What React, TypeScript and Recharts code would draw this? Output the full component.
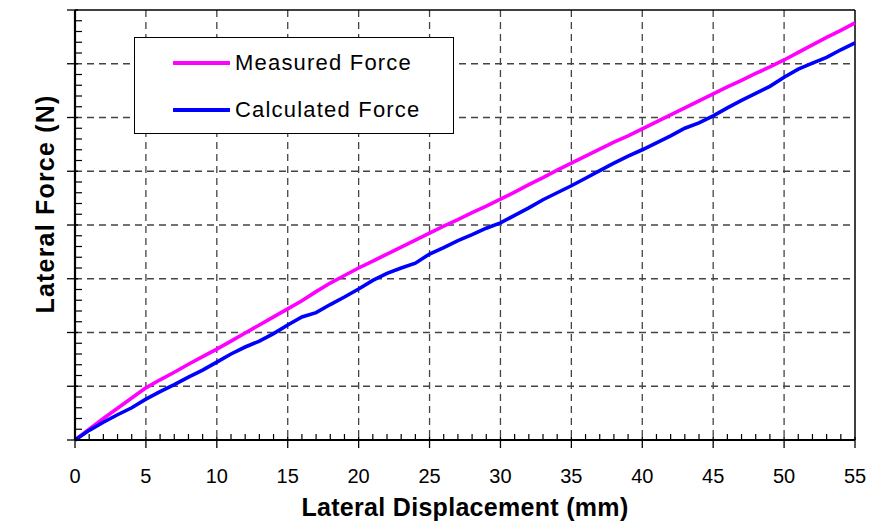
import React from "react";
import {
  LineChart,
  Line,
  XAxis,
  YAxis,
  CartesianGrid,
  Legend,
  Label,
  ReferenceLine,
} from "recharts";

// Lateral force vs lateral displacement — measured and calculated.

const displacement = [
  0, 1, 2, 3, 4, 5, 6, 7, 8, 9, 10, 11, 12, 13, 14, 15, 16, 17, 18, 19, 20,
  21, 22, 23, 24, 25, 26, 27, 28, 29, 30, 31, 32, 33, 34, 35, 36, 37, 38, 39,
  40, 41, 42, 43, 44, 45, 46, 47, 48, 49, 50, 51, 52, 53, 54, 55,
];

const measured = [
  0, 0.2, 0.4, 0.59, 0.78, 0.97, 1.12, 1.26, 1.41, 1.55, 1.69, 1.84, 1.99,
  2.14, 2.29, 2.44, 2.59, 2.76, 2.92, 3.06, 3.2, 3.33, 3.46, 3.59, 3.72, 3.85,
  3.98, 4.1, 4.23, 4.35, 4.48, 4.61, 4.75, 4.88, 5.02, 5.15, 5.28, 5.41, 5.54,
  5.66, 5.79, 5.92, 6.05, 6.18, 6.31, 6.44, 6.57, 6.69, 6.82, 6.94, 7.07, 7.21,
  7.35, 7.49, 7.62, 7.76,
];

const calculated = [
  0, 0.18, 0.33, 0.47, 0.6, 0.76, 0.9, 1.03, 1.17, 1.3, 1.45, 1.6, 1.73, 1.84,
  1.98, 2.14, 2.29, 2.37, 2.52, 2.66, 2.81, 2.97, 3.1, 3.2, 3.29, 3.46, 3.58,
  3.71, 3.82, 3.94, 4.04, 4.18, 4.32, 4.47, 4.6, 4.73, 4.87, 5.01, 5.15, 5.28,
  5.4, 5.53, 5.66, 5.8, 5.9, 6.03, 6.18, 6.32, 6.45, 6.58, 6.75, 6.9, 7.01,
  7.12, 7.26, 7.39,
];

const seriesNames = ["Measured Force", "Calculated Force"];

const xTicks = displacement;
const xMajor = [0, 5, 10, 15, 20, 25, 30, 35, 40, 45, 50, 55];
const yTicks = Array.from({ length: 41 }, (_, i) => i / 5);
const yGrid = [1, 2, 3, 4, 5, 6, 7];
const xGrid = [5, 10, 15, 20, 25, 30, 35, 40, 45, 50];

const data = displacement.map((d, i) => ({
  d,
  measured: measured[i],
  calculated: calculated[i],
}));

const FONT = "'Liberation Sans', Arial, sans-serif";

function XTick(props: any) {
  const { x, y, payload } = props;
  const major = xMajor.includes(payload.value);
  return (
    <g>
      {major ? (
        <line x1={x} x2={x} y1={y - 3} y2={y + 8} stroke="#000" strokeWidth={1.3} />
      ) : (
        <line x1={x} x2={x} y1={y} y2={y - 6} stroke="#000" strokeWidth={1.2} />
      )}
      {major && (
        <text
          x={x}
          y={y + 43}
          textAnchor="middle"
          fontFamily={FONT}
          fontSize={20}
          fill="#000"
        >
          {payload.value}
        </text>
      )}
    </g>
  );
}

function YTick(props: any) {
  const { x, y, payload } = props;
  const major = Math.abs(payload.value - Math.round(payload.value)) < 1e-6;
  return major ? (
    <line x1={x - 8} x2={x + 3} y1={y} y2={y} stroke="#000" strokeWidth={1.3} />
  ) : (
    <line x1={x} x2={x + 7} y1={y} y2={y} stroke="#000" strokeWidth={1.2} />
  );
}

function LegendBox(props: any) {
  const items = [...(props.payload || [])].sort(
    (a: any, b: any) => seriesNames.indexOf(a.value) - seriesNames.indexOf(b.value)
  );
  return (
    <div
      style={{
        width: 320,
        height: 97,
        boxSizing: "border-box",
        border: "1.5px solid #000",
        background: "#fff",
        position: "relative",
      }}
    >
      {items.map((it: any, i: number) => (
        <div
          key={it.value}
          style={{
            position: "absolute",
            left: 38,
            top: 25 + i * 47 - 14,
            height: 28,
            display: "flex",
            alignItems: "center",
          }}
        >
          <svg width={57} height={8} style={{ display: "block" }}>
            <line x1={1} x2={56} y1={4} y2={4} stroke={it.color} strokeWidth={4} strokeLinecap="round" />
          </svg>
          <span
            style={{
              marginLeft: 5,
              fontFamily: FONT,
              fontSize: 22,
              letterSpacing: 1.2,
              color: "#000",
              lineHeight: "28px",
            }}
          >
            {it.value}
          </span>
        </div>
      ))}
    </div>
  );
}

export default function App() {
  return (
    <div style={{ position: "absolute", left: 0, top: 0, background: "#fff" }}>
      <LineChart
        width={885}
        height={524}
        data={data}
        margin={{ top: 10, right: 30, left: 0, bottom: 0 }}
      >
        <CartesianGrid
          horizontalValues={yGrid}
          verticalValues={xGrid}
          stroke="#444"
          strokeWidth={1.3}
          strokeDasharray="7 5"
        />
        <XAxis
          dataKey="d"
          type="number"
          domain={[0, 55]}
          ticks={xTicks}
          interval={0}
          height={84}
          tickSize={0}
          tickMargin={0}
          tick={<XTick />}
          axisLine={{ stroke: "#000", strokeWidth: 2.2 }}
          tickLine={false}
        >
          <Label
            content={(p: any) => {
              const vb = p.viewBox || {};
              return (
                <text
                  x={vb.x + vb.width / 2}
                  y={vb.y + 76}
                  textAnchor="middle"
                  fontFamily={FONT}
                  fontSize={25}
                  fontWeight="bold"
                  letterSpacing={0.3}
                  fill="#000"
                >
                  Lateral Displacement (mm)
                </text>
              );
            }}
          />
        </XAxis>
        <YAxis
          type="number"
          domain={[0, 8]}
          ticks={yTicks}
          interval={0}
          width={75}
          tickSize={0}
          tickMargin={0}
          tick={<YTick />}
          axisLine={{ stroke: "#000", strokeWidth: 2.2 }}
          tickLine={false}
        >
          <Label
            content={(p: any) => {
              const vb = p.viewBox || {};
              const cx = vb.x + 45;
              const cy = vb.y + vb.height / 2 - 21;
              return (
                <text
                  x={cx}
                  y={cy}
                  transform={`rotate(-90 ${cx} ${cy})`}
                  textAnchor="middle"
                  dominantBaseline="central"
                  fontFamily={FONT}
                  fontSize={25}
                  fontWeight="bold"
                  letterSpacing={1.2}
                  fill="#000"
                >
                  Lateral Force (N)
                </text>
              );
            }}
          />
        </YAxis>
        <ReferenceLine y={8} stroke="#000" strokeWidth={1.5} />
        <ReferenceLine x={55} stroke="#000" strokeWidth={1.5} />
        <Legend
          layout="vertical"
          align="center"
          verticalAlign="middle"
          wrapperStyle={{ left: 134, top: 37, width: 320, height: 97 }}
          content={<LegendBox />}
        />
        <Line
          name="Measured Force"
          dataKey="measured"
          type="linear"
          stroke="#FF00FF"
          strokeWidth={3.6}
          dot={false}
          isAnimationActive={false}
        />
        <Line
          name="Calculated Force"
          dataKey="calculated"
          type="linear"
          stroke="#0000FF"
          strokeWidth={3.6}
          dot={false}
          isAnimationActive={false}
        />
      </LineChart>
    </div>
  );
}
